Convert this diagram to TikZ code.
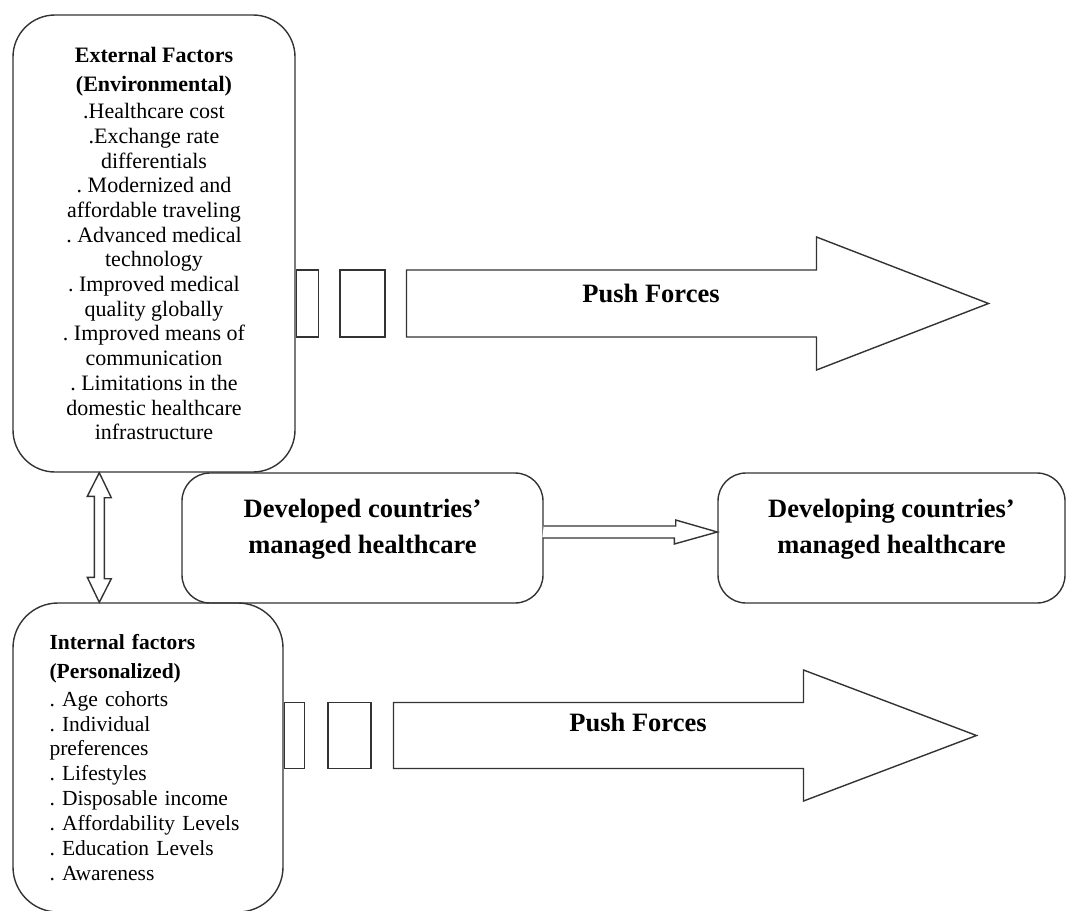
\documentclass[tikz,border=0pt]{standalone}
\usepackage{fontspec}
\setmainfont{Liberation Serif}
\usetikzlibrary{positioning}
\frenchspacing

\begin{document}
\begin{tikzpicture}[x=1pt,y=-1pt,
outline/.style={draw=black!80, line width=1.4pt},
factorbox/.style={outline, rounded corners=42pt, inner sep=0pt},
carebox/.style={outline, rounded corners=28pt, minimum height=130pt},
gapbox/.style={outline, minimum height=67pt, inner sep=0pt},
hollow/.style={outline, fill=white, line join=miter},
small/.style={font=\fontsize{22}{24.7}\selectfont},
big/.style={font=\bfseries\fontsize{26.5}{36}\selectfont, align=center}
]
\useasboundingbox (0,0) rectangle (1067,910);

% factor boxes
\node[factorbox, minimum width=282pt, minimum height=457pt, align=center, small] (ext) at (154,243.5) {\textbf{External Factors}\\[5pt]\textbf{(Environmental)}\\[2pt]
.Healthcare cost\\.Exchange rate\\differentials\\. Modernized and\\affordable traveling\\. Advanced medical\\technology\\. Improved medical\\quality globally\\. Improved means of\\communication\\. Limitations in the\\domestic healthcare\\infrastructure};
\node[factorbox, rounded corners=45pt, minimum width=270pt, minimum height=309pt, text width=197pt, align=left, font=\fontsize{21.5}{24.9}\selectfont] (int) at (148,757.5) {\textbf{Internal factors}\\[4pt]\textbf{(Personalized)}\\[3pt]
. Age cohorts\\. Individual\\preferences\\. Lifestyles\\. Disposable income\\. Affordability Levels\\. Education Levels\\. Awareness};

% managed healthcare
\node[carebox, minimum width=361pt] (dev) at (362.5,538) {};
\node[carebox, minimum width=347pt] (dvg) at (891.5,538) {};
\node[big] (devtxt) at (362.5,529) {Developed countries'\\managed healthcare};
\node[big] (dvgtxt) at (891.5,529) {Developing countries'\\managed healthcare};

% push forces, top
\node[gapbox, minimum width=22pt, anchor=west, yshift=-60pt] (g1) at (ext.east) {};
\node[gapbox, minimum width=45pt, right=20pt of g1] (g2) {};
\draw[hollow] (g2.east) ++(21,-33.5) -- ++(410,0) -- ++(0,-33) -- ++(172,66.5) -- ++(-172,66.5) -- ++(0,-33) -- ++(-410,0) -- cycle;
\node[font=\bfseries\fontsize{26.5}{30}\selectfont] (push1) at (651,293) {Push Forces};

% push forces, bottom
\node[gapbox, minimum height=66pt, minimum width=20pt, anchor=west, yshift=22pt] (g3) at (int.east) {};
\node[gapbox, minimum height=66pt, minimum width=43pt, right=22pt of g3] (g4) {};
\draw[hollow] (g4.east) ++(22,-33) -- ++(410,0) -- ++(0,-32.5) -- ++(173,65.5) -- ++(-173,65.5) -- ++(0,-32.5) -- ++(-410,0) -- cycle;
\node[font=\bfseries\fontsize{26.5}{30}\selectfont] (push2) at (638,722.5) {Push Forces};

% hollow connectors
\path (ext.south west) ++(87,0) coordinate (vtop);
\path (int.north west) ++(87,0) coordinate (vbot);
\draw[hollow] (vtop) -- ++(12,25) -- ++(-7,0) -- ++(0,81) -- ++(7,0) -- (vbot) -- ++(-12,-25) -- ++(7,0) -- ++(0,-81) -- ++(-7,0) -- cycle;
\path (dev.east) ++(0,-6) coordinate (hs);
\draw[hollow] (hs) ++(0,-6) -- ++(132,0) -- ++(0,-6) -- (dvg.west |- hs) -- ++(-43,12) -- ++(0,-6) -- ++(-132,0);
\end{tikzpicture}
\end{document}
